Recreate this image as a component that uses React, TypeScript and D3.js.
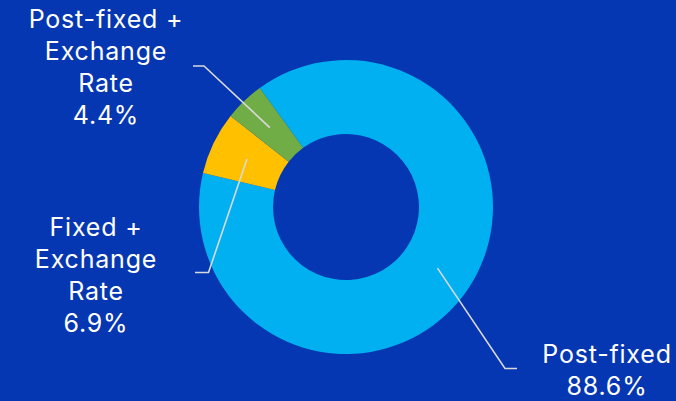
import React from "react";
import * as d3 from "d3";

const categories = ["Post-fixed", "Fixed + Exchange Rate", "Post-fixed + Exchange Rate"];
const values = [88.6, 6.9, 4.4];
const labelLines = [
  ["Post-fixed", "88.6%"],
  ["Fixed +", "Exchange", "Rate", "6.9%"],
  ["Post-fixed +", "Exchange", "Rate", "4.4%"],
];
const colors = ["#00B0F0", "#FFC000", "#70AD47"];

const W = 676;
const H = 401;
const cx = 346;
const cy = 207;
const rOuter = 147;
const rInner = 73;
const startDeg = -35.9;

// label layout: text anchor centre x, first baseline y, elbow point, line end
const labelLayout = [
  { x: 607, y: 363, elbow: [505, 368.5], end: [517, 368.5] },
  { x: 96, y: 236, elbow: [208.5, 272.5], end: [195, 272.5] },
  { x: 106, y: 27.5, elbow: [204, 66], end: [193, 66] },
];

export default function App() {
  const pie = d3
    .pie<number>()
    .sort(null)
    .startAngle((startDeg * Math.PI) / 180)
    .endAngle((startDeg * Math.PI) / 180 + 2 * Math.PI);
  const arcs = pie(values);
  const arc = d3.arc<d3.PieArcDatum<number>>().innerRadius(rInner).outerRadius(rOuter);
  const midR = (rInner + rOuter) / 2;

  return (
    <div style={{ position: "fixed", left: 0, top: 0, width: W, height: H }}>
      <svg width={W} height={H} style={{ display: "block" }}>
        <rect width={W} height={H} fill="#0637B2" />
        <g transform={`translate(${cx},${cy})`}>
          {arcs.map((a, i) => (
            <path key={categories[i]} d={arc(a) || ""} fill={colors[i]} />
          ))}
        </g>
        {arcs.map((a, i) => {
          const mid = (a.startAngle + a.endAngle) / 2;
          const sx = cx + midR * Math.sin(mid);
          const sy = cy - midR * Math.cos(mid);
          const L = labelLayout[i];
          return (
            <polyline
              key={"l" + i}
              points={`${sx},${sy} ${L.elbow[0]},${L.elbow[1]} ${L.end[0]},${L.end[1]}`}
              fill="none"
              stroke="#D9D9D9"
              strokeWidth={1.6}
            />
          );
        })}
        {labelLines.map((lines, i) => {
          const L = labelLayout[i];
          return (
            <text
              key={"t" + i}
              x={L.x}
              y={L.y}
              textAnchor="middle"
              fill="#FFFFFF"
              fontFamily="Inter, 'Noto Sans', sans-serif"
              fontSize={25}
              letterSpacing={0.8}
            >
              {lines.map((s, j) => (
                <tspan key={j} x={L.x} dy={j === 0 ? 0 : 32}>
                  {s}
                </tspan>
              ))}
            </text>
          );
        })}
      </svg>
    </div>
  );
}
